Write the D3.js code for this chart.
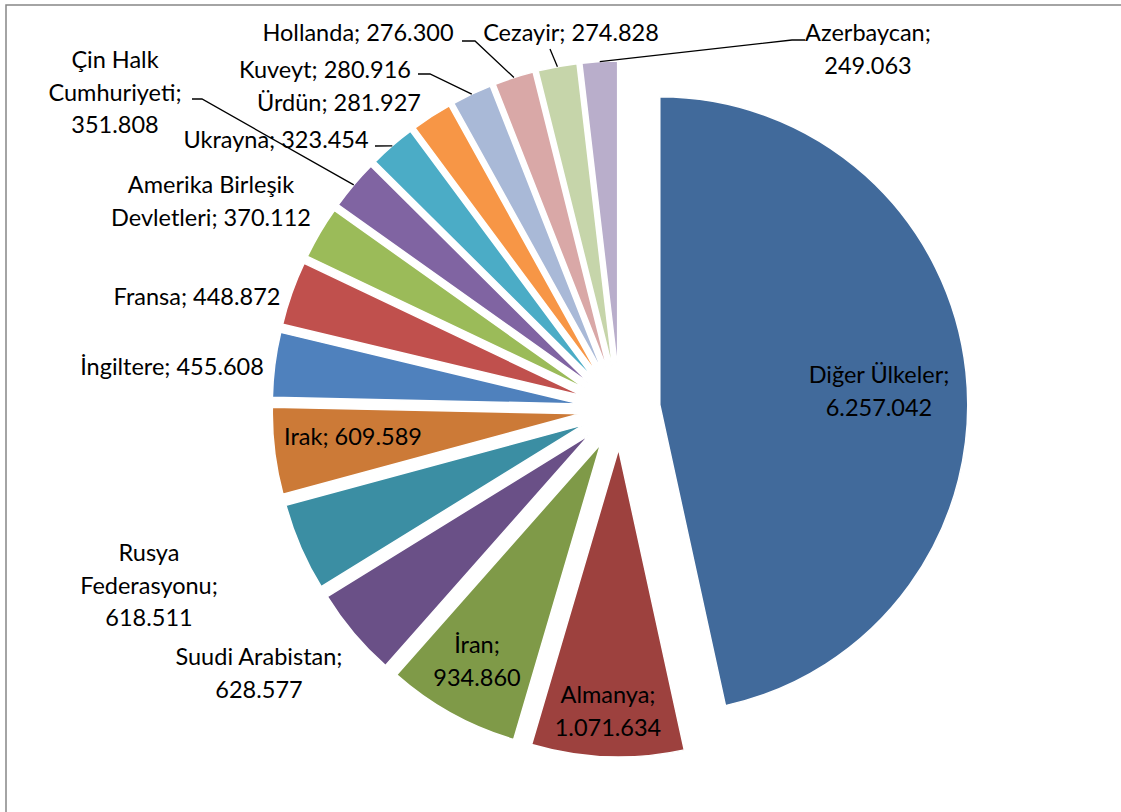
<!DOCTYPE html>
<html><head><meta charset="utf-8">
<script src="https://cdn.jsdelivr.net/npm/d3@7"></script>
<style>
html,body{margin:0;padding:0;background:#fff;}
svg{display:block;}
text{font-family:Lato,"Open Sans",sans-serif;font-size:23.5px;fill:#000;}
</style></head>
<body>
<svg id="chart" width="1121" height="812"></svg>
<script>
// ---- data ----
const categories = ["Diğer Ülkeler","Almanya","İran","Suudi Arabistan","Rusya Federasyonu","Irak","İngiltere","Fransa","Amerika Birleşik Devletleri","Çin Halk Cumhuriyeti","Ukrayna","Ürdün","Kuveyt","Hollanda","Cezayir","Azerbaycan"];
const values = [6257042,1071634,934860,628577,618511,609589,455608,448872,370112,351808,323454,281927,280916,276300,274828,249063];
const colors = ["#416A9B","#9D413E","#7F9A48","#6A5087","#3B8EA3","#CC7A37","#4F81BD","#C0504D","#9BBB59","#8064A2","#4BACC6","#F79646","#A9B9D7","#D9A8A7","#C6D5AA","#B9AECB"];

// ---- label layout (Excel-style manual placement) ----
// x,y: centre of first text line; wrap: words per line; leader: start polyline of leader line
const labelLayout = [
  {x:879,y:375,wrap:[2,1]},
  {x:608,y:695,wrap:[1,1]},
  {x:477,y:645,wrap:[1,1]},
  {x:259,y:657,wrap:[2,1]},
  {x:149,y:553,wrap:[1,1,1]},
  {x:353,y:437},
  {x:172,y:367},
  {x:197,y:297},
  {x:211,y:185,wrap:[2,2]},
  {x:115,y:60,wrap:[2,1,1],leader:[[192,99],[202,99]]},
  {x:276,y:140,leader:[[375,146]]},
  {x:339,y:103},
  {x:325,y:70,leader:[[418,74],[430,74]]},
  {x:358,y:33,leader:[[462,41],[475,41]]},
  {x:571,y:33,leader:[[550,49]]},
  {x:868,y:33,wrap:[1,1],leader:[[805,40],[792,40]]}
];

const W=1121,H=812;
const cx=620, cy=409, R=308, explode=40, lineH=32.5;

const loc = d3.formatLocale({decimal:",",thousands:".",grouping:[3],currency:["",""]});
const fmt = loc.format(",d");

const svg = d3.select("#chart");

// chart area border
svg.append("rect").attr("x",6).attr("y",5).attr("width",W+20).attr("height",H+20)
  .attr("fill","#fff").attr("stroke","#868686").attr("stroke-width",1.5);

const data = categories.map((c,i)=>({cat:c,value:values[i],color:colors[i],layout:labelLayout[i]}));
const pie = d3.pie().sort(null).value(d=>d.value).startAngle(0).endAngle(2*Math.PI);
const arcs = pie(data);
const arc = d3.arc().innerRadius(0).outerRadius(R);

const g = svg.append("g").attr("transform",`translate(${cx},${cy})`);

arcs.forEach(a=>{
  const mid=(a.startAngle+a.endAngle)/2;
  a.dx = explode*Math.sin(mid);
  a.dy = -explode*Math.cos(mid);
  a.outer = [cx+a.dx+R*Math.sin(mid), cy+a.dy-R*Math.cos(mid)];
});

g.selectAll("path.slice").data(arcs).join("path")
  .attr("class","slice")
  .attr("d",arc)
  .attr("transform",d=>`translate(${d.dx},${d.dy})`)
  .attr("fill",d=>d.data.color)
  .attr("stroke","#fff").attr("stroke-width",1.5).attr("stroke-linejoin","round");

// leader lines
const line = d3.line();
svg.selectAll("path.leader").data(arcs.filter(d=>d.data.layout.leader)).join("path")
  .attr("class","leader")
  .attr("d",d=>line([...d.data.layout.leader, d.outer]))
  .attr("fill","none").attr("stroke","#000").attr("stroke-width",1.3);

// labels
arcs.forEach(a=>{
  const L=a.data.layout;
  const words=(a.data.cat+"; "+fmt(a.data.value)).split(" ");
  const wrap=L.wrap||[words.length];
  const lines=[]; let k=0;
  wrap.forEach(n=>{lines.push(words.slice(k,k+n).join(" ")); k+=n;});
  const t=svg.append("text").attr("text-anchor","middle");
  lines.forEach((s,i)=>{
    t.append("tspan").attr("x",L.x).attr("y",L.y+8+i*lineH).text(s);
  });
});
</script>
</body></html>
